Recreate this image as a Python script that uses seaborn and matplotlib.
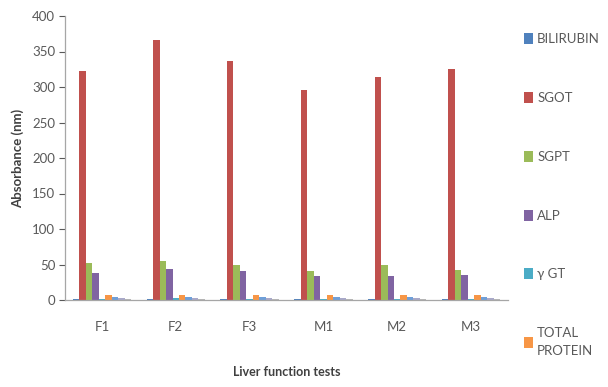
import matplotlib
matplotlib.use("Agg")
import matplotlib.pyplot as plt
import seaborn as sns
import pandas as pd
from matplotlib.patches import Patch

groups = ["F1", "F2", "F3", "M1", "M2", "M3"]
tests = ["BILIRUBIN", "SGOT", "SGPT", "ALP", "\u03b3 GT", "TOTAL\nPROTEIN",
         "ALBUMIN", "GLOBULIN", "A/G RATIO"]

bilirubin = [1.0, 1.1, 0.9, 1.0, 0.9, 1.0]
sgot = [322, 366, 336, 296, 314, 325]
sgpt = [52, 55, 50, 41, 50, 42]
alp = [38, 44, 41, 34, 34, 35]
ggt = [2.0, 2.2, 1.8, 2.0, 2.1, 1.9]
total_protein = [7.0, 7.2, 6.8, 7.1, 6.9, 7.0]
albumin = [4.0, 4.1, 3.9, 4.0, 3.8, 4.0]
globulin = [3.0, 3.1, 2.9, 3.1, 3.0, 3.0]
ag_ratio = [1.3, 1.3, 1.3, 1.3, 1.3, 1.3]

series = [bilirubin, sgot, sgpt, alp, ggt, total_protein, albumin, globulin, ag_ratio]
colors = ["#4F81BD", "#C0504D", "#9BBB59", "#8064A2", "#4BACC6", "#F79646",
          "#6F9FD8", "#A9A9C9", "#B8B8B8"]

rows = []
for name, vals in zip(tests, series):
    for g, v in zip(groups, vals):
        rows.append({"group": g, "test": name, "value": v})
df = pd.DataFrame(rows)

sns.set_style("white")
plt.rcParams["font.family"] = ["Lato", "DejaVu Sans"]

fig = plt.figure(figsize=(6.08, 3.87), dpi=100)
ax = fig.add_axes([65 / 608, 1 - 300 / 387, (508 - 65) / 608, (300 - 16) / 387])

sns.barplot(data=df, x="group", y="value", hue="test", hue_order=tests,
            palette=colors, width=0.79, gap=0, saturation=1, ax=ax,
            legend=False, errorbar=None, linewidth=0)

ax.set_ylim(0, 400)
ax.set_yticks(range(0, 401, 50))
ax.set_xlim(-0.5, 5.5)
ax.tick_params(axis="y", colors="#595959", labelsize=9.5, length=4, width=0.8,
               direction="out", left=True, pad=3)
ax.tick_params(axis="x", colors="#595959", labelsize=9.5, length=0, pad=15)
for lbl in ax.get_yticklabels() + ax.get_xticklabels():
    lbl.set_color("#595959")

for side in ["top", "right"]:
    ax.spines[side].set_visible(False)
for side in ["left", "bottom"]:
    ax.spines[side].set_color("#A6A6A6")
    ax.spines[side].set_linewidth(0.9)

ax.set_ylabel("Absorbance (nm)", fontsize=9.5, fontweight="bold", color="#404040",
              labelpad=6)
ax.set_xlabel("Liver function tests", fontsize=9, fontweight="bold",
              color="#404040", labelpad=24)

handles = [Patch(facecolor=c, edgecolor="none") for c in colors[:6]]
leg = fig.legend(handles, tests[:6], loc="upper left",
                 bbox_to_anchor=(524 / 608, 1 - 33 / 387),
                 frameon=False, fontsize=9.5, labelspacing=3.55,
                 handlelength=0.7, handleheight=0.9, handletextpad=0.3,
                 borderaxespad=0, borderpad=0)
for t in leg.get_texts():
    t.set_color("#595959")
    t.set_linespacing(1.6)

fig.savefig("out.png", dpi=100)
